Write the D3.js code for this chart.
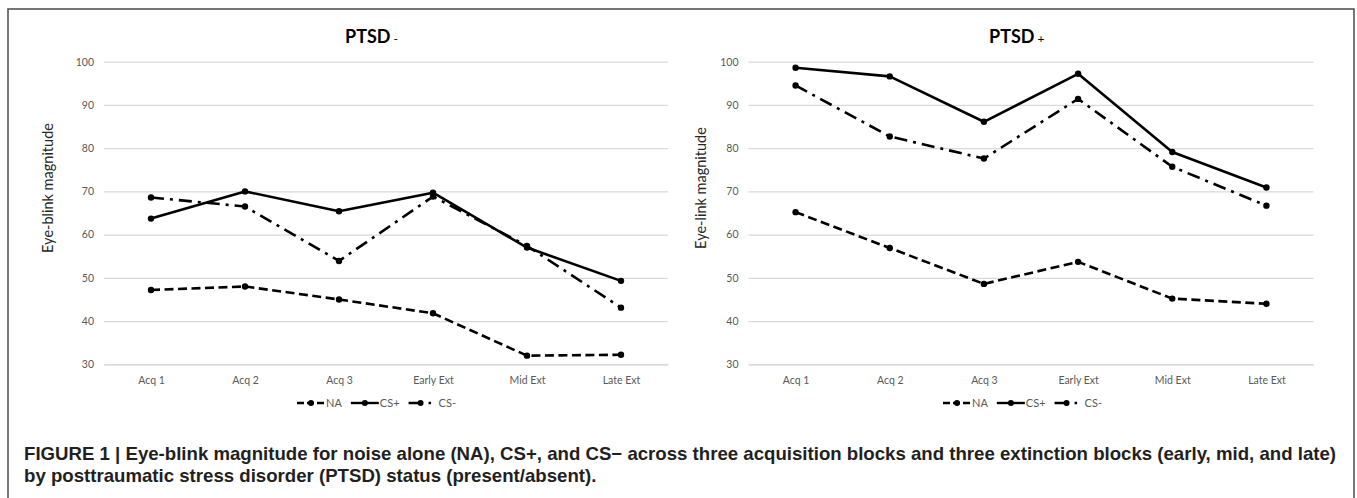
<!DOCTYPE html>
<html>
<head>
<meta charset="utf-8">
<script src="https://cdn.jsdelivr.net/npm/d3@7/dist/d3.min.js"></script>
<style>
  html, body { margin: 0; padding: 0; background: #fff; }
  svg { display: block; }
</style>
</head>
<body>
<svg id="chart" width="1357" height="498"></svg>
<script>
// ---------------- DATA ----------------
const categories = ["Acq 1", "Acq 2", "Acq 3", "Early Ext", "Mid Ext", "Late Ext"];
const yTicks = [30, 40, 50, 60, 70, 80, 90, 100];
const seriesNames = ["NA", "CS+", "CS-"];

const ptsdNegNA      = [47.2, 48.0, 45.0, 41.8, 32.0, 32.2];
const ptsdNegCSplus  = [63.7, 70.0, 65.4, 69.7, 57.0, 49.3];
const ptsdNegCSminus = [68.6, 66.5, 53.9, 68.8, 57.4, 43.1];

const ptsdPosNA      = [65.2, 56.9, 48.6, 53.7, 45.2, 44.0];
const ptsdPosCSplus  = [98.6, 96.6, 86.1, 97.2, 79.1, 70.9];
const ptsdPosCSminus = [94.5, 82.7, 77.6, 91.4, 75.7, 66.7];

const panelTitles = ["PTSD", "PTSD"];
const panelTitleSigns = ["-", "+"];
const yTitles = ["Eye-blink magnitude", "Eye-link magnitude"];
const captionLines = [
  "FIGURE 1 | Eye-blink magnitude for noise alone (NA), CS+, and CS\u2212 across three acquisition blocks and three extinction blocks (early, mid, and late)",
  "by posttraumatic stress disorder (PTSD) status (present/absent)."
];

// ---------------- LAYOUT / STYLE ----------------
const svg = d3.select("#chart");
const chartFont = "Lato, 'Open Sans', sans-serif";
const gridColor = "#d9d9d9";
const labelColor = "#595959";

const styles = {
  "NA":  { dash: "9,4.5" },
  "CS+": { dash: null },
  "CS-": { dash: "13,6,3,6" }
};

// outer frame
svg.append("rect")
  .attr("x", 8).attr("y", 9)
  .attr("width", 1346).attr("height", 520)
  .attr("fill", "none")
  .attr("stroke", "#555").attr("stroke-width", 1.6);

const panels = [
  { x0: 104, x1: 668, titleX: 345, yTitleX: 53, legendX: 297,
    data: [ptsdNegNA, ptsdNegCSplus, ptsdNegCSminus] },
  { x0: 748.5, x1: 1313.5, titleX: 989, yTitleX: 706, legendX: 943,
    data: [ptsdPosNA, ptsdPosCSplus, ptsdPosCSminus] }
];
const yTop = 61.7, yBottom = 364.3;

panels.forEach((p, pi) => {
  const x = d3.scalePoint().domain(categories).range([p.x0, p.x1]).padding(0.5);
  const y = d3.scaleLinear().domain([30, 100]).range([yBottom, yTop]);
  const g = svg.append("g");

  // y axis with gridlines
  const ya = g.append("g")
    .attr("transform", `translate(${p.x0},0)`)
    .call(d3.axisLeft(y).tickValues(yTicks).tickSize(-(p.x1 - p.x0)).tickPadding(10));
  ya.select(".domain").remove();
  ya.selectAll(".tick line").attr("stroke", gridColor).attr("stroke-width", 1.2);
  ya.selectAll(".tick text")
    .attr("fill", labelColor)
    .style("font-family", chartFont).style("font-size", "10.5px");

  // x axis
  const xa = g.append("g")
    .attr("transform", `translate(0,${yBottom})`)
    .call(d3.axisBottom(x).tickSize(0).tickPadding(12));
  xa.select(".domain").attr("stroke", gridColor).attr("stroke-width", 1.2);
  xa.selectAll(".tick text")
    .attr("fill", labelColor)
    .style("font-family", chartFont).style("font-size", "10.5px");

  // title
  const t = g.append("text")
    .attr("x", p.titleX).attr("y", 43)
    .attr("fill", "#000")
    .style("font-family", chartFont);
  t.append("tspan").text(panelTitles[pi])
    .style("font-size", "18px").style("font-weight", "700");
  t.append("tspan").text(" " + panelTitleSigns[pi])
    .style("font-size", "12px").style("font-weight", "400");

  // y title
  g.append("text")
    .attr("transform", `translate(${p.yTitleX},188) rotate(-90)`)
    .attr("text-anchor", "middle")
    .attr("fill", "#262626")
    .style("font-family", chartFont).style("font-size", "14.5px")
    .text(yTitles[pi]);

  // lines
  const line = d3.line().x((d, i) => x(categories[i])).y(d => y(d));
  seriesNames.forEach((s, si) => {
    const vals = p.data[si];
    g.append("path")
      .datum(vals)
      .attr("d", line)
      .attr("fill", "none")
      .attr("stroke", "#000")
      .attr("stroke-width", 2.6)
      .attr("stroke-dasharray", styles[s].dash)
      .attr("stroke-linejoin", "round");
    g.selectAll(null).data(vals).enter().append("circle")
      .attr("cx", (d, i) => x(categories[i]))
      .attr("cy", d => y(d))
      .attr("r", 3.2)
      .attr("fill", "#000");
  });

  // legend
  const lg = g.append("g").attr("transform", `translate(${p.legendX},403)`);
  let cx = 0;
  seriesNames.forEach((s) => {
    const symW = 28;
    const item = lg.append("g").attr("transform", `translate(${cx},0)`);
    let dash = styles[s].dash;
    if (s === "NA") dash = "7,3";
    if (s === "CS-") dash = "14,6,2.5,20";
    item.append("line")
      .attr("x1", 0).attr("x2", symW).attr("y1", 0).attr("y2", 0)
      .attr("stroke", "#000").attr("stroke-width", 2.4)
      .attr("stroke-dasharray", dash);
    item.append("circle").attr("cx", s === "CS-" ? 12 : symW / 2).attr("cy", 0).attr("r", 3).attr("fill", "#000");
    const txt = item.append("text")
      .attr("x", s === "CS-" ? symW + 2 : symW + 1).attr("y", 0).attr("dy", "0.35em")
      .attr("fill", labelColor)
      .style("font-family", chartFont).style("font-size", "11px")
      .text(s);
    const w = txt.node().getComputedTextLength();
    cx += symW + 1 + w + 9;
  });
});

// caption
const cap = svg.append("g");
const capBase = [460, 482];
const capTexts = captionLines.map((l, i) =>
  cap.append("text")
    .attr("x", 24).attr("y", capBase[i])
    .attr("fill", "#231f20")
    .style("font-family", "'Liberation Sans', Arial, sans-serif")
    .style("font-weight", "700")
    .style("font-size", "15px")
    .text(l)
);
const len0 = capTexts[0].node().getComputedTextLength();
const fs = 15 * 1313 / len0;
capTexts.forEach(t => t.style("font-size", fs + "px"));
</script>
</body>
</html>
